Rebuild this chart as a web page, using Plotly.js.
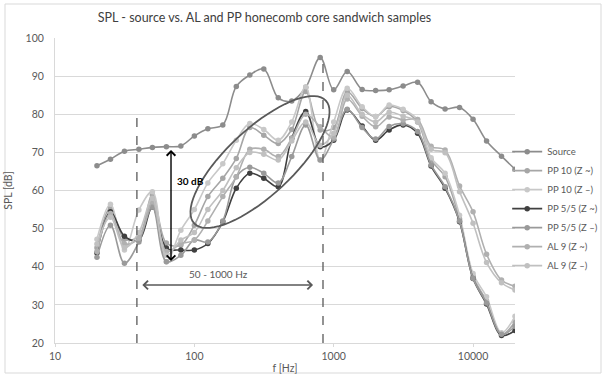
<!DOCTYPE html>
<html><head><meta charset="utf-8">
<script src="https://cdn.plot.ly/plotly-3.0.1.min.js"></script>
<style>html,body{margin:0;padding:0;background:#fff}</style>
</head><body><div id="chart" style="width:606px;height:378px"></div>
<script>
const freqs = [20,25,31.5,40,50,63,80,100,125,160,200,250,315,400,500,630,800,1000,1250,1600,2000,2500,3150,4000,5000,6300,8000,10000,12500,16000,20000];
const source   = [66.5,68.2,70.3,70.8,71.3,71.5,71.7,74.3,76.2,77.2,87.3,90.3,91.9,84.3,83.5,87.0,94.9,86.4,91.2,86.5,86.2,86.4,87.4,88.4,83.3,81.4,81.8,78.7,73.0,69.0,65.6];
const pp10_zt  = [45.0,55.5,47.2,48.0,58.8,46.2,45.7,50.9,58.4,63.2,68.4,76.5,74.5,72.3,76.0,86.0,75.9,76.5,85.9,81.5,79.4,82.0,81.0,78.0,68.0,63.6,52.5,37.5,31.0,22.3,25.5];
const pp10_zm  = [47.2,56.4,44.4,54.9,59.7,41.3,49.6,55.0,62.0,67.0,73.2,77.6,76.0,73.2,78.0,87.2,68.0,78.0,86.8,82.0,79.4,82.4,81.3,78.6,68.6,64.5,53.5,38.2,32.1,22.7,27.0];
const pp55_zt  = [43.6,54.4,48.0,47.0,55.7,44.9,44.4,44.4,46.1,51.8,60.6,64.5,63.2,61.0,73.7,80.7,71.5,73.2,81.1,76.9,73.2,75.9,77.2,75.0,66.4,60.6,51.8,36.9,30.2,22.0,23.3];
const pp55_zm  = [42.5,50.9,40.9,46.5,55.7,41.3,43.0,47.0,46.5,52.0,63.6,66.1,64.5,62.0,68.9,77.2,68.0,73.5,81.3,76.5,73.5,76.8,77.5,75.5,66.7,61.0,52.0,37.0,30.5,22.3,24.4];
const al9_zt   = [44.0,54.0,46.0,47.5,57.0,44.0,46.0,47.0,52.0,58.4,63.6,70.8,70.8,68.9,73.7,80.0,76.7,74.0,84.0,79.5,76.7,79.3,78.5,78.6,71.6,70.6,61.2,54.4,43.3,36.5,34.9];
const al9_zm   = [46.0,53.0,45.0,49.0,58.0,43.0,47.0,49.0,55.0,60.0,66.0,70.0,69.5,68.0,73.0,78.0,71.9,75.0,85.0,80.0,78.0,80.5,79.5,78.0,70.8,69.9,59.7,51.4,41.1,35.8,33.9];
const seriesNames = ["Source","PP 10 (Z ~)","PP 10 (Z \u2013)","PP 5/5 (Z ~)","PP 5/5 (Z \u2013)","AL 9 (Z ~)","AL 9 (Z \u2013)"];
const seriesVals = [source,pp10_zt,pp10_zm,pp55_zt,pp55_zm,al9_zt,al9_zm];
const seriesColors = ["#8c8c8c","#a6a6a6","#c8c8c8","#404040","#9a9a9a","#b0b0b0","#c0c0c0"];
const xTickVals = [10,100,1000,10000];
const xTickText = ["10","100","1000","10000"];

const traces = seriesVals.map((v,i)=>({
  x: freqs, y: v, name: seriesNames[i], type:'scatter', mode:'lines+markers',
  line:{color:seriesColors[i], width:1.6, shape:'spline', smoothing:1},
  marker:{color:seriesColors[i], size:5.5}
}));

// plot area geometry in pixels
const L=55, R=91, T=38, B=35, W=606, H=378;
const pw = W-L-R, ph = H-T-B;
function pp(x,y){return [(x-L)/pw, (H-B-y)/ph];}
// ellipse (decoration) in pixel space
const ecx=260, ecy=162, ea=90, eb=33, eang=-43*Math.PI/180;
let path='';
for(let k=0;k<=72;k++){
  const t=k/72*2*Math.PI;
  const x=ecx+ea*Math.cos(t)*Math.cos(eang)-eb*Math.sin(t)*Math.sin(eang);
  const y=ecy+ea*Math.cos(t)*Math.sin(eang)+eb*Math.sin(t)*Math.cos(eang);
  const p=pp(x,y);
  path += (k===0?'M':'L')+p[0].toFixed(4)+','+p[1].toFixed(4);
}
path+='Z';
const b0=pp(5,373), b1=pp(601,4);

const layout = {
  width:W, height:H,
  margin:{l:L,r:R,t:T,b:B,autoexpand:false},
  paper_bgcolor:'#fff', plot_bgcolor:'#fff',
  font:{family:'Lato, "Open Sans", sans-serif', color:'#595959', size:10},
  title:{text:'SPL - source vs. AL and PP honecomb core sandwich samples', x:264.5/606, xref:'container', xanchor:'center', y:1-18/378, yref:'container', yanchor:'middle', font:{size:12.5,color:'#404040'}},
  xaxis:{type:'log', range:[1, Math.log10(20000)], tickvals:xTickVals, ticktext:xTickText, showgrid:false, showline:true, linecolor:'#d9d9d9', ticks:'outside', ticklen:3, tickcolor:'#d9d9d9', tickfont:{size:10.5,color:'#595959'}, zeroline:false, automargin:false,
    title:{text:'f [Hz]', font:{size:10.5,color:'#595959'}, standoff:4}},
  yaxis:{range:[20,100], dtick:10, showgrid:true, gridcolor:'#d9d9d9', showline:true, linecolor:'#d9d9d9', ticks:'', ticklabelstandoff:8, tickfont:{size:10.5,color:'#595959'}, zeroline:false, automargin:false,
    title:{text:'SPL [dB]', font:{size:10.5,color:'#595959'}, standoff:10}},
  legend:{x:0.983, y:0.675, xanchor:'left', yanchor:'top', font:{size:9.5,color:'#595959'}, bgcolor:'rgba(0,0,0,0)', tracegroupgap:0},
  shapes:[
    {type:'rect', xref:'paper', yref:'paper', x0:b0[0], y0:b0[1], x1:b1[0], y1:b1[1], line:{color:'#d9d9d9', width:1}},
    {type:'line', xref:'x', yref:'y', x0:38.7, x1:38.7, y0:20, y1:81.3, line:{color:'#595959', width:1.3, dash:'dash'}},
    {type:'line', xref:'x', yref:'y', x0:838, x1:838, y0:20, y1:94, line:{color:'#595959', width:1.3, dash:'dash'}},
    {type:'path', xref:'paper', yref:'paper', path:path, line:{color:'#595959', width:1.8}}
  ],
  annotations:[
    {x:Math.log10(68), y:41.5, ax:Math.log10(68), ay:71, xref:'x', yref:'y', axref:'x', ayref:'y', text:'', showarrow:true, arrowhead:4, startarrowhead:4, arrowside:'end+start', arrowsize:1.2, arrowwidth:1.4, arrowcolor:'#000'},
    {x:Math.log10(72.4), y:62.4, xref:'x', yref:'y', text:'<b>30 dB</b>', showarrow:false, xanchor:'left', yanchor:'middle', font:{size:10,color:'#000'}},
    {x:Math.log10(711), y:35.2, ax:Math.log10(41.3), ay:35.2, xref:'x', yref:'y', axref:'x', ayref:'y', text:'', showarrow:true, arrowhead:4, startarrowhead:4, arrowside:'end+start', arrowsize:1.2, arrowwidth:1.4, arrowcolor:'#595959'},
    {x:2.176, y:38.2, xref:'x', yref:'y', text:'50 - 1000 Hz', showarrow:false, xanchor:'center', yanchor:'middle', font:{size:10,color:'#595959'}}
  ]
};
Plotly.newPlot('chart', traces, layout, {displayModeBar:false, staticPlot:true});
</script>
</body></html>
